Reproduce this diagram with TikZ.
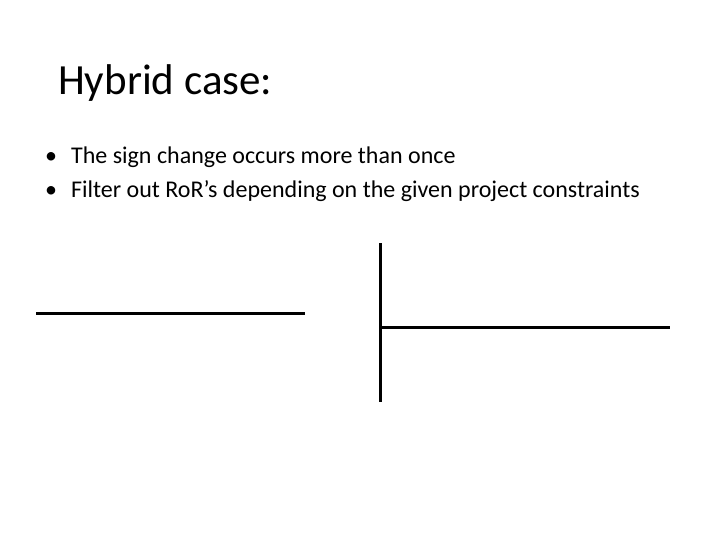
\documentclass[tikz,border=0pt]{standalone}
\usepackage{fontspec}
\setmainfont{Carlito}
\begin{document}
\begin{tikzpicture}[x=1pt,y=-1pt,
  bar/.style={line width=3pt,black},
  txt/.style={anchor=base west,inner sep=0pt}]
\useasboundingbox (0,0) rectangle (720,540);
\node[txt,font=\fontsize{43}{50}\selectfont] (title) at (58,95) {Hybrid case:};
\node[txt,font=\fontsize{24}{28}\selectfont] (b1) at (45,164) {•\hspace{14pt}The sign change occurs more than once};
\node[txt,font=\fontsize{24}{28}\selectfont] (b2) at (45,198) {•\hspace{14pt}Filter out RoR’s depending on the given project constraints};
\coordinate (l1a) at (36,313); \coordinate (l1b) at (305,313);
\coordinate (va) at (380,243); \coordinate (vb) at (380,402);
\coordinate (l2a) at (380,327); \coordinate (l2b) at (670,327);
\draw[bar] (l1a) -- (l1b);
\draw[bar] (va) -- (vb);
\draw[bar] (l2a) -- (l2b);
\end{tikzpicture}
\end{document}
